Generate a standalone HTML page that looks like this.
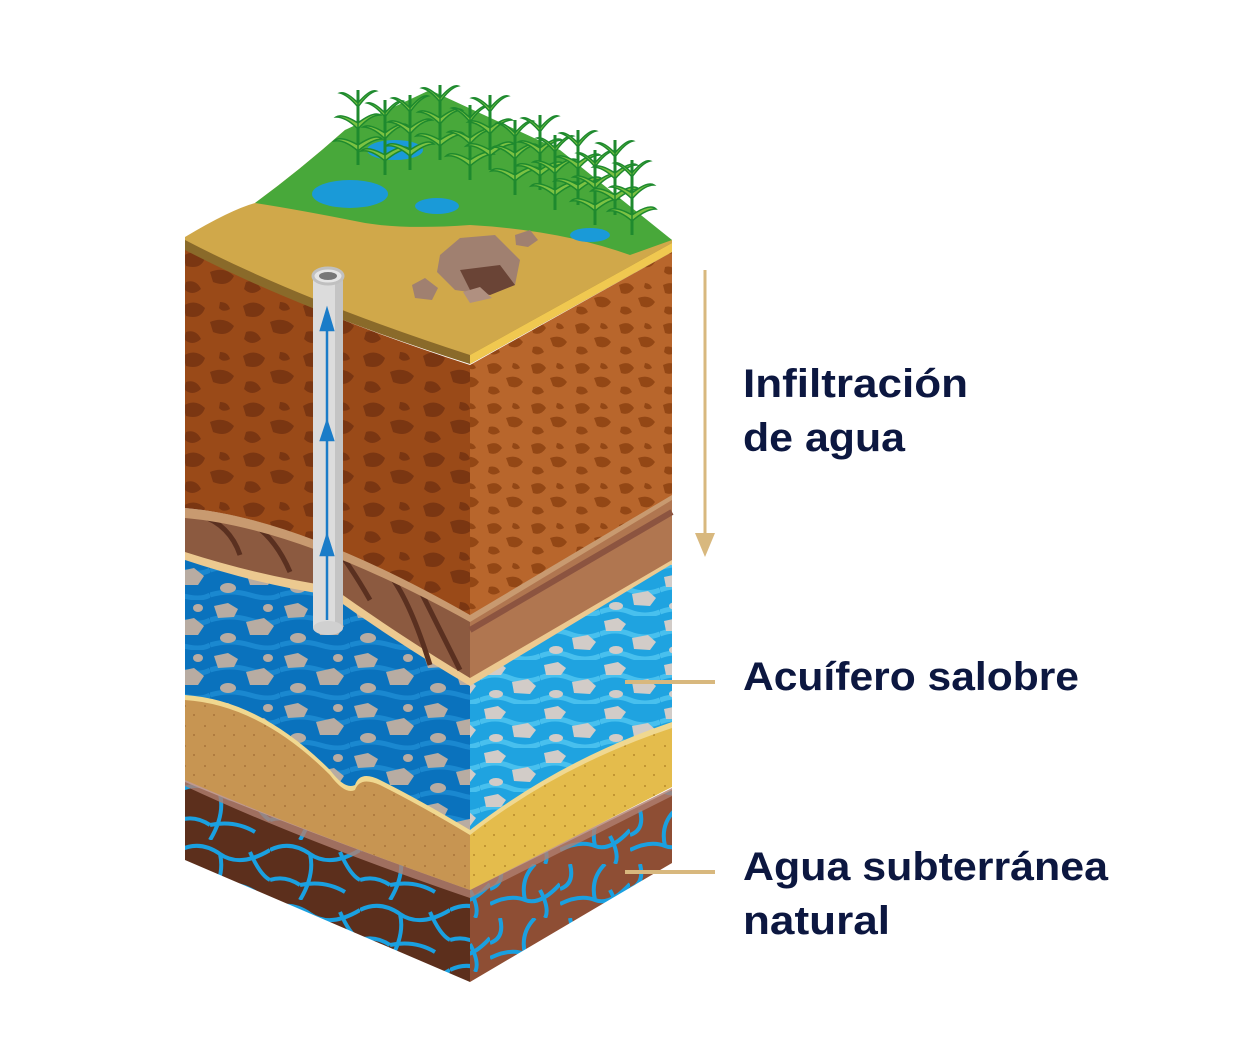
<!DOCTYPE html>
<html><head><meta charset="utf-8"><style>
html,body{margin:0;padding:0;background:#fff;width:1250px;height:1052px;overflow:hidden}
svg{display:block}
text{font-family:"Liberation Sans",sans-serif;font-weight:bold;fill:#0c1740;font-size:40px}
</style></head><body>
<svg width="1250" height="1052" viewBox="0 0 1250 1052" xmlns="http://www.w3.org/2000/svg">
<defs>
<pattern id="spotL" width="60" height="50" patternUnits="userSpaceOnUse">
<rect width="60" height="50" fill="#9a4a18"/>
<path d="M3 6 q12-8 22 2 q-4 12-19 8z M30 22 q14-6 24 4 q-6 12-21 6z M6 32 q10-3 15 7 q-9 8-17 0z M40 2 q8 0 10 7 q-7 4-11-1z" fill="#7a3612"/>
</pattern>
<pattern id="spotR" width="44" height="40" patternUnits="userSpaceOnUse">
<rect width="44" height="40" fill="#b8662c"/>
<path d="M3 5 q10-5 15 3 q-5 8-13 5z M22 18 q11-4 17 4 q-5 8-14 4z M5 27 q8-2 11 5 q-7 5-12 0z M29 3 q5 0 7 5 q-5 3-8-1z" fill="#934715"/>
</pattern>
<pattern id="stoneL" width="70" height="50" patternUnits="userSpaceOnUse">
<rect width="70" height="50" fill="#0a72bd"/>
<path d="M0 20 q20-6 40 0 t30 0 M0 45 q20-6 40 0 t30 0" stroke="#1a88d0" stroke-width="5" fill="none"/>
<path d="M4 6 l14-3 10 6 -4 8 -16 1z" fill="#b8aca2"/>
<path d="M36 22 l18-4 10 8 -6 9 -18 0z" fill="#b8aca2"/>
<ellipse cx="18" cy="38" rx="8" ry="5" fill="#b8aca2"/>
<ellipse cx="58" cy="8" rx="5" ry="4" fill="#b8aca2"/>
</pattern>
<pattern id="stoneR" width="60" height="44" patternUnits="userSpaceOnUse">
<rect width="60" height="44" fill="#1fa3e0"/>
<path d="M0 18 q15-6 30 0 t30 0 M0 40 q15-6 30 0 t30 0" stroke="#48c0ee" stroke-width="5" fill="none"/>
<path d="M4 5 l14-3 8 6 -5 7 -15 0z" fill="#d2ccc8"/>
<path d="M32 22 l16-3 8 7 -6 8 -16 -1z" fill="#d2ccc8"/>
<ellipse cx="16" cy="34" rx="7" ry="4" fill="#d2ccc8"/>
</pattern>
<pattern id="veinL" width="90" height="60" patternUnits="userSpaceOnUse">
<rect width="90" height="60" fill="#5c2f1c"/>
<path d="M0 10 Q20 0 40 14 T90 10 M40 14 Q45 35 30 60 M70 12 Q80 35 90 40 M0 40 Q15 35 30 45 M30 45 Q55 40 75 52" stroke="#1aa0e0" stroke-width="4" fill="none"/>
</pattern>
<pattern id="veinR" width="70" height="54" patternUnits="userSpaceOnUse">
<rect width="70" height="54" fill="#8e4e34"/>
<path d="M0 40 Q20 30 35 36 T70 20 M35 36 Q30 15 45 0 M10 0 Q15 20 0 25 M50 26 Q60 45 55 54" stroke="#1aa0e0" stroke-width="4" fill="none"/>
</pattern>
<pattern id="sandL" width="20" height="20" patternUnits="userSpaceOnUse"><rect width="20" height="20" fill="#c79552"/><circle cx="5" cy="6" r="1" fill="#a8743a"/><circle cx="14" cy="15" r="1" fill="#a8743a"/></pattern>
<pattern id="sandR" width="20" height="20" patternUnits="userSpaceOnUse"><rect width="20" height="20" fill="#e4bc4c"/><circle cx="5" cy="6" r="1" fill="#b8892a"/><circle cx="14" cy="15" r="1" fill="#b8892a"/></pattern>
<g id="plant">
<path d="M0 0 V-75" stroke="#1e8a2e" stroke-width="3"/>
<path d="M0 -20 q-18-10-24-4 q10-2 24 10z M0 -20 q18-12 24-6 q-10 0-24 12z M0 -42 q-16-10-22-6 q10 0 22 12z M0 -42 q16-12 22-8 q-10 0-22 14z M0 -62 q-12-12-18-10 q8 2 18 14z M0 -62 q12-14 18-12 q-8 2-18 16z" fill="#7cc242" stroke="#1e8a2e" stroke-width="1.5"/>
</g>
</defs>

<!-- bottom layer -->
<path d="M185 782 Q300 830 470 890 L470 982 L185 860Z" fill="url(#veinL)"/>
<path d="M470 890 L672 790 L672 863 L470 982Z" fill="url(#veinR)"/>
<path d="M185 775 Q300 830 470 888 L672 788 L672 796 L470 898 Q300 840 185 786Z" fill="#b08070" opacity="0.8"/>

<!-- sand layer -->
<path d="M185 695 Q260 700 330 770 Q345 790 355 785 Q360 770 380 780 Q420 800 470 830 L470 890 Q300 830 185 780Z" fill="url(#sandL)"/>
<path d="M470 830 Q560 760 672 722 L672 787 L470 890Z" fill="url(#sandR)"/>
<path d="M185 690 Q260 695 330 765 Q345 785 355 780 Q360 765 380 775 Q420 795 470 825 Q560 755 672 718 L672 728 Q560 765 470 835 Q420 805 380 785 Q360 776 355 790 Q345 795 330 775 Q260 705 185 700Z" fill="#f0d890"/>

<!-- blue aquifer -->
<path d="M185 555 Q260 580 330 590 Q400 640 470 680 L470 830 Q420 800 380 780 Q360 770 355 785 Q345 790 330 770 Q260 700 185 695Z" fill="url(#stoneL)"/>
<path d="M470 680 L672 560 L672 722 Q560 760 470 830Z" fill="url(#stoneR)"/>
<path d="M185 550 Q260 575 330 585 Q400 635 470 676 L672 556 L672 564 L470 686 Q400 645 330 595 Q260 585 185 560Z" fill="#ecc990"/>

<!-- dark rock layer -->
<path d="M185 510 Q300 520 470 615 L470 678 Q400 636 330 586 Q260 576 185 552Z" fill="#8c5a40"/>
<path d="M200 515 q30 10 40 40 M250 522 q25 15 40 50 M330 540 q20 25 40 60 M380 565 q25 20 50 100 M420 590 q15 30 40 80" stroke="#5a3020" stroke-width="5" fill="none"/>
<path d="M470 615 L672 495 L672 560 L470 678Z" fill="#b07650"/>
<path d="M470 630 L672 512" stroke="#8c5440" stroke-width="6"/>
<path d="M185 508 Q300 518 470 613 L672 493 L672 500 L470 622 Q300 528 185 518Z" fill="#c89a70"/>

<!-- brown soil -->
<path d="M185 248 Q300 310 470 365 L470 615 Q300 518 185 508Z" fill="url(#spotL)"/>
<path d="M470 365 L672 252 L672 495 L470 615Z" fill="url(#spotR)"/>

<!-- top surface -->
<path d="M185 237 Q230 210 255 203 Q300 170 345 130 L430 100 L560 160 L672 240 L672 250 L470 362 Q300 305 185 248Z" fill="#d0a84a"/>
<path d="M185 240 Q300 300 470 355 L672 243 L672 252 L470 364 Q300 310 185 250Z" fill="#8a6a2a"/>
<path d="M470 355 L672 243 L672 252 L470 364Z" fill="#f0c850"/>
<path d="M255 203 Q300 170 345 130 L430 90 L560 150 L672 240 L630 255 Q560 230 470 225 Q400 230 360 222 Q300 210 255 203Z" fill="#48a83a"/>
<ellipse cx="350" cy="194" rx="38" ry="14" fill="#1a9ad8"/>
<ellipse cx="437" cy="206" rx="22" ry="8" fill="#1a9ad8"/>
<ellipse cx="395" cy="150" rx="28" ry="10" fill="#1a9ad8"/>
<ellipse cx="590" cy="235" rx="20" ry="7" fill="#1a9ad8"/>
<!-- plants -->
<use href="#plant" x="358" y="165"/>
<use href="#plant" x="385" y="175"/>
<use href="#plant" x="410" y="170"/>
<use href="#plant" x="440" y="160"/>
<use href="#plant" x="470" y="180"/>
<use href="#plant" x="490" y="170"/>
<use href="#plant" x="515" y="195"/>
<use href="#plant" x="540" y="190"/>
<use href="#plant" x="555" y="210"/>
<use href="#plant" x="578" y="205"/>
<use href="#plant" x="595" y="225"/>
<use href="#plant" x="615" y="215"/>
<use href="#plant" x="632" y="235"/>
<!-- rocks -->
<path d="M440 255 L460 238 L495 235 L520 260 L515 285 L490 295 L455 290 L437 272Z" fill="#a08070"/>
<path d="M460 270 L500 265 L515 285 L490 295 L470 290Z" fill="#6a4436"/>
<path d="M412 285 L425 278 L438 288 L432 300 L415 298Z" fill="#a08070"/>
<path d="M515 235 L530 230 L538 240 L528 247 L516 245Z" fill="#a08070"/>
<path d="M463 292 L480 287 L492 298 L470 303Z" fill="#b09080"/>

<!-- pipe -->
<rect x="313" y="278" width="30" height="350" fill="#dcdcdc"/>
<rect x="335" y="278" width="8" height="350" fill="#c4c4c4"/>
<ellipse cx="328" cy="628" rx="15" ry="7" fill="#d0d0d0"/>
<ellipse cx="328" cy="276" rx="15" ry="8" fill="#e6e6e6" stroke="#c0c0c0" stroke-width="3"/>
<ellipse cx="328" cy="276" rx="9" ry="4" fill="#777"/>
<g stroke="#1a7cc8" stroke-width="2.5" fill="#1a7cc8">
<line x1="327" y1="320" x2="327" y2="620"/>
<path d="M321 330 L327 310 L333 330Z"/>
<path d="M321 440 L327 422 L333 440Z"/>
<path d="M321 555 L327 536 L333 555Z"/>
</g>

<!-- arrow -->
<line x1="705" y1="270" x2="705" y2="540" stroke="#d8b87e" stroke-width="3"/>
<path d="M695 533 L705 557 L715 533Z" fill="#d8b87e"/>
<line x1="625" y1="682" x2="715" y2="682" stroke="#d8b87e" stroke-width="4"/>
<line x1="625" y1="872" x2="715" y2="872" stroke="#d8b87e" stroke-width="4"/>

<text x="743" y="397" textLength="225" lengthAdjust="spacingAndGlyphs">Infiltración</text>
<text x="743" y="451" textLength="162" lengthAdjust="spacingAndGlyphs">de agua</text>
<text x="743" y="690" textLength="336" lengthAdjust="spacingAndGlyphs">Acuífero salobre</text>
<text x="743" y="880" textLength="365" lengthAdjust="spacingAndGlyphs">Agua subterránea</text>
<text x="743" y="934" textLength="147" lengthAdjust="spacingAndGlyphs">natural</text>
</svg>
</body></html>
